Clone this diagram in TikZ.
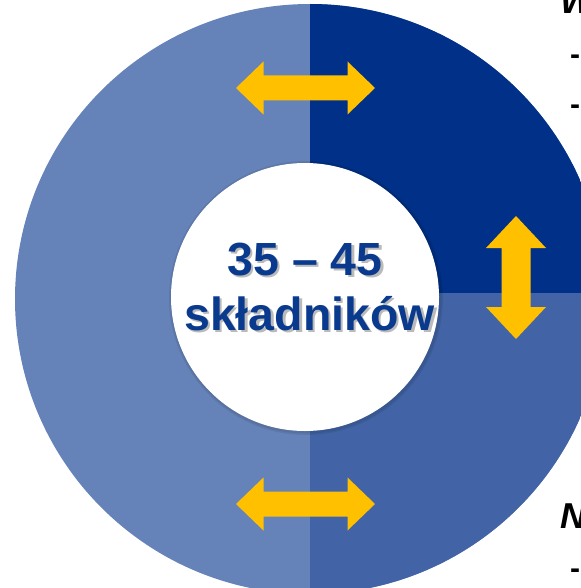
\documentclass[tikz,border=0pt]{standalone}
\usepackage{fontspec}
\setmainfont{Liberation Sans}
\definecolor{segLight}{HTML}{6583B8}
\definecolor{segMid}{HTML}{4264A7}
\definecolor{segDark}{HTML}{003087}
\definecolor{arrowYellow}{HTML}{FFC000}
\definecolor{centreText}{HTML}{0A3A8E}
\begin{document}
\begin{tikzpicture}[x=1pt,y=-1pt,
  yarrow/.style={fill=arrowYellow,draw=none},
  bigtext/.style={font=\fontsize{46.5}{54}\selectfont\bfseries,inner sep=0pt,anchor=base},
  sidetext/.style={font=\fontsize{36}{43}\selectfont\bfseries\itshape,inner sep=0pt,anchor=base west,text=black},
  dashtext/.style={font=\fontsize{30}{36}\selectfont\bfseries,inner sep=0pt,anchor=base west,text=black}]
\useasboundingbox (0,0) rectangle (580,588);
% donut segments
\begin{scope}
  \clip (310,299) circle[radius=295];
  \fill[segLight] (0,-20) rectangle (620,620);
  \fill[segDark] (310,-20) rectangle (620,293);
  \fill[segMid] (310,293) rectangle (620,620);
\end{scope}
% inner white hole with soft shadow
\fill[black,opacity=0.08] (306,298) circle[radius=137];
\fill[black,opacity=0.06] (306,298) circle[radius=135.5];
\fill[white] (305,297) circle[radius=134];
% yellow double arrows
\fill[yarrow] (236,88) -- (263.5,61.5) -- (263.5,75.5) -- (347.5,75.5) -- (347.5,61.5) -- (375,88)
  -- (347.5,114.5) -- (347.5,100.5) -- (263.5,100.5) -- (263.5,114.5) -- cycle;
\fill[yarrow] (236,504) -- (263.5,477.5) -- (263.5,491.5) -- (347.5,491.5) -- (347.5,477.5) -- (375,504)
  -- (347.5,530.5) -- (347.5,516.5) -- (263.5,516.5) -- (263.5,530.5) -- cycle;
\fill[yarrow] (516,216) -- (546,248) -- (530.5,248) -- (530.5,307) -- (546,307) -- (516,339)
  -- (486,307) -- (501.5,307) -- (501.5,248) -- (486,248) -- cycle;
% centre text with shadow
\node[bigtext,text=black!60,opacity=0.45] (num-sh) at (307.5,277) {35 – 45};
\node[bigtext,text=centreText] (num) at (305,275) {35 – 45};
\node[bigtext,text=black!60,opacity=0.45] (word-sh) at (312,332) {składników};
\node[bigtext,text=centreText] (word) at (309.5,330) {składników};
% cut-off side texts
\node[sidetext] (headW) at (560,14) {W};
\node[dashtext] (dash1) at (570,65) {-};
\node[dashtext] (dash2) at (570,115) {-};
\node[sidetext] (headN) at (560,528) {N};
\node[dashtext] (dash3) at (570,578) {-};
\end{tikzpicture}
\end{document}
